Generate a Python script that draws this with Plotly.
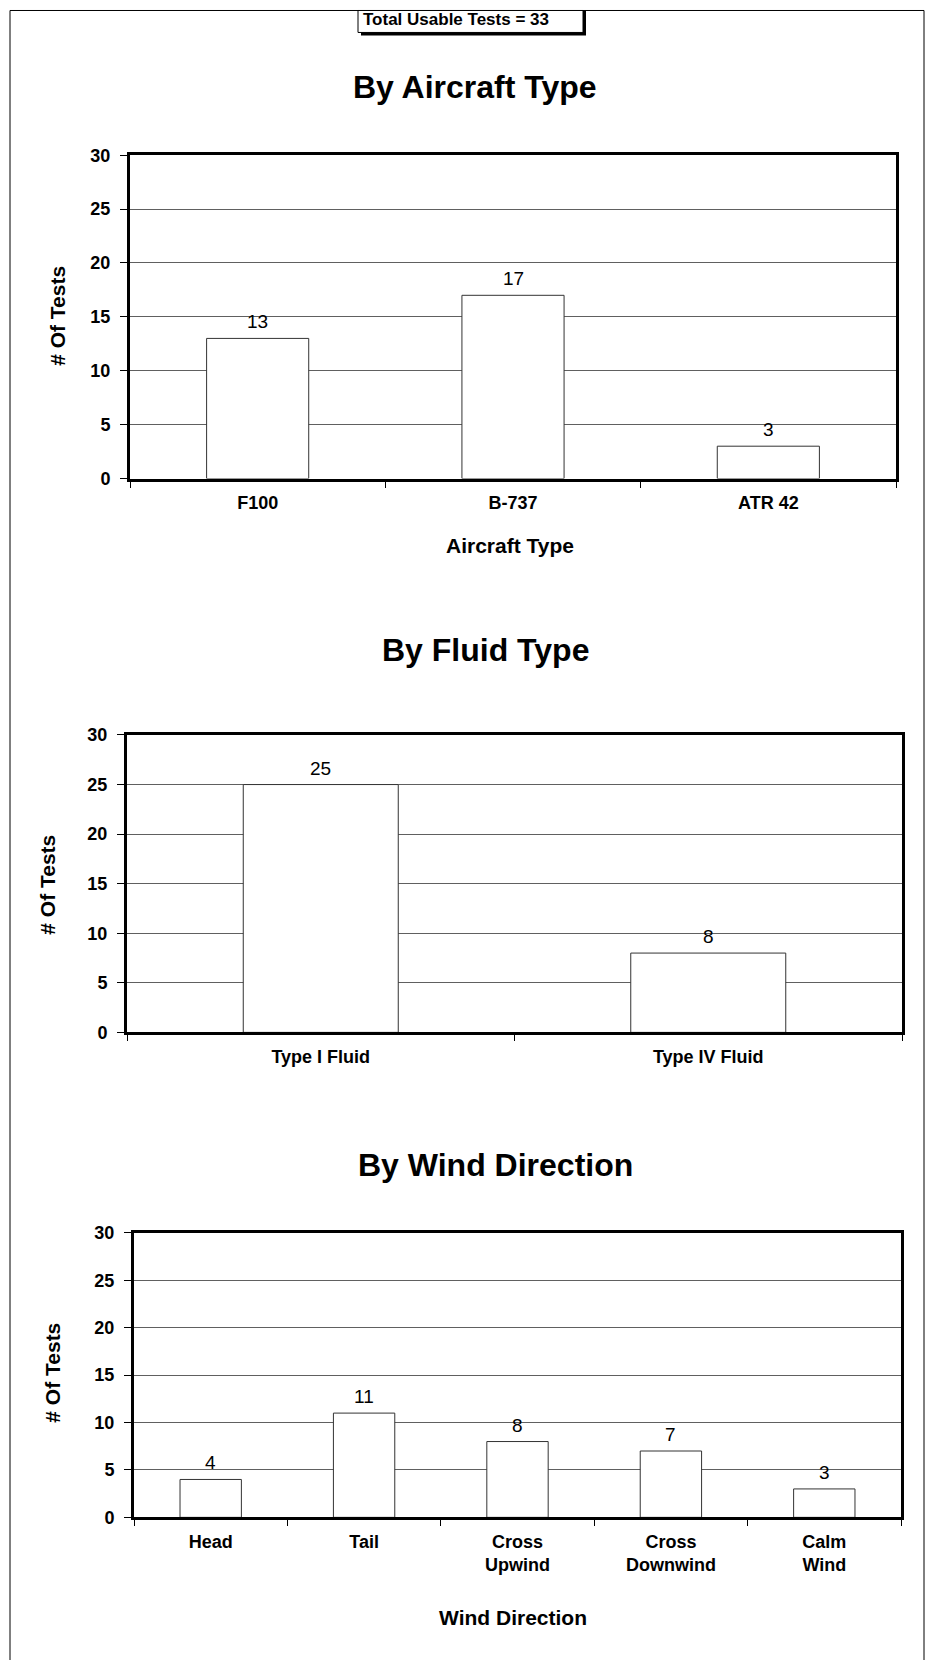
import plotly.graph_objects as go

# ---------------- data ----------------
aircraft_types = ["F100", "B-737", "ATR 42"]
aircraft_tests = [13, 17, 3]

fluid_types = ["Type I Fluid", "Type IV Fluid"]
fluid_tests = [25, 8]

wind_directions = ["Head", "Tail", "Cross<br>Upwind", "Cross<br>Downwind", "Calm<br>Wind"]
wind_tests = [4, 11, 8, 7, 3]

y_tick_values = [0, 5, 10, 15, 20, 25, 30]
total_label = "Total Usable Tests = 33"

# ---------------- layout helpers ----------------
W, H = 925, 1660
FONT = "Liberation Sans, Arial, sans-serif"
# the photographed page is offset/squeezed slightly in y; compensate
Y_OFF, Y_SCALE = 7.5, 0.99


def fx(x):
    return x / W


def fy(y):
    yi = max((y - Y_OFF) / Y_SCALE, 0.5)
    return 1 - yi / H


panels = [
    dict(cats=aircraft_types, vals=aircraft_tests, box=(130, 153, 896, 477),
         title="By Aircraft Type", title_xy=(475, 85),
         ytitle_xy=(58, 314), xtitle="Aircraft Type", xtitle_xy=(510, 544)),
    dict(cats=fluid_types, vals=fluid_tests, box=(127, 734, 902, 1032),
         title="By Fluid Type", title_xy=(486, 649),
         ytitle_xy=(48, 884), xtitle=None, xtitle_xy=None),
    dict(cats=wind_directions, vals=wind_tests, box=(134, 1233, 901, 1518),
         title="By Wind Direction", title_xy=(495, 1165),
         ytitle_xy=(53, 1373), xtitle="Wind Direction", xtitle_xy=(513, 1618)),
]

fig = go.Figure()
annotations = []
layout_axes = {}

for i, p in enumerate(panels, start=1):
    sfx = "" if i == 1 else str(i)
    fig.add_trace(go.Bar(
        x=p["cats"], y=p["vals"],
        xaxis="x" + sfx, yaxis="y" + sfx,
        marker=dict(color="white", line=dict(color="#333333", width=1)),
        hoverinfo="x+y", showlegend=False,
    ))
    # value labels above bars
    for c, v in zip(p["cats"], p["vals"]):
        annotations.append(dict(
            text=str(v), x=c, y=v, xref="x" + sfx, yref="y" + sfx,
            xanchor="center", yanchor="bottom", yshift=4, showarrow=False,
            font=dict(family=FONT, size=19, color="black")))
    x0, y0, x1, y1 = p["box"]
    layout_axes["xaxis" + sfx] = dict(
        domain=[fx(x0), fx(x1)], anchor="y" + sfx,
        showline=True, linewidth=3, linecolor="black", mirror=True,
        ticks="outside", tickson="boundaries", ticklen=6, tickwidth=1, tickcolor="black",
        ticklabelstandoff=6,
        tickfont=dict(family=FONT, size=18, color="black", weight="bold"),
        showgrid=False, zeroline=False, fixedrange=True,
    )
    layout_axes["yaxis" + sfx] = dict(
        domain=[fy(y1), fy(y0)], anchor="x" + sfx,
        range=[0, 30], tickmode="array", tickvals=y_tick_values,
        showline=True, linewidth=3, linecolor="black", mirror=True,
        ticks="outside", ticklen=7, tickwidth=1, tickcolor="black",
        ticklabelstandoff=6,
        tickfont=dict(family=FONT, size=18, color="black", weight="bold"),
        showgrid=True, gridcolor="#606060", gridwidth=1,
        zeroline=False, fixedrange=True,
    )
    tx, ty = p["title_xy"]
    annotations.append(dict(
        text=p["title"], x=fx(tx), y=fy(ty), xref="paper", yref="paper",
        xanchor="center", yanchor="middle", showarrow=False,
        font=dict(family=FONT, size=32, color="black", weight="bold")))
    ax, ay = p["ytitle_xy"]
    annotations.append(dict(
        text="# Of Tests", x=fx(ax), y=fy(ay), xref="paper", yref="paper",
        xanchor="center", yanchor="middle", showarrow=False, textangle=-90,
        font=dict(family=FONT, size=21, color="black", weight="bold")))
    if p["xtitle"]:
        bx, by = p["xtitle_xy"]
        annotations.append(dict(
            text=p["xtitle"], x=fx(bx), y=fy(by), xref="paper", yref="paper",
            xanchor="center", yanchor="middle", showarrow=False,
            font=dict(family=FONT, size=21, color="black", weight="bold")))

# total usable tests label
annotations.append(dict(
    text=total_label, x=fx(361), y=fy(17), xref="paper", yref="paper",
    xanchor="left", yanchor="middle", showarrow=False,
    font=dict(family=FONT, size=17, color="black", weight="bold")))

shapes = [
    # page frame
    dict(type="rect", xref="paper", yref="paper", x0=fx(10), y0=-0.02, x1=fx(924), y1=fy(4),
         line=dict(color="black", width=1), fillcolor="rgba(0,0,0,0)", layer="below"),
    # label box shadow
    dict(type="rect", xref="paper", yref="paper", x0=fx(361), y0=fy(33), x1=fx(586), y1=fy(7),
         line=dict(width=0), fillcolor="black", layer="below"),
    # label box
    dict(type="rect", xref="paper", yref="paper", x0=fx(358), y0=fy(30), x1=fx(583), y1=fy(4),
         line=dict(color="black", width=1), fillcolor="white", layer="below"),
]

fig.update_layout(
    width=W, height=H,
    margin=dict(l=0, r=0, t=0, b=0),
    paper_bgcolor="white", plot_bgcolor="white",
    bargap=0.6,
    font=dict(family=FONT, color="black"),
    annotations=annotations,
    shapes=shapes,
    showlegend=False,
    **layout_axes,
)

fig.write_html(
    "out.html",
    config={"displayModeBar": False},
    post_script=(
        "var d=document.getElementById('{plot_id}');"
        "d.style.position='absolute';d.style.left='0px';d.style.top='0px';"
        "document.body.style.margin='0';document.body.style.padding='0';"
        "document.documentElement.style.overflow='hidden';"
        "document.body.style.overflow='hidden';"
    ),
)
